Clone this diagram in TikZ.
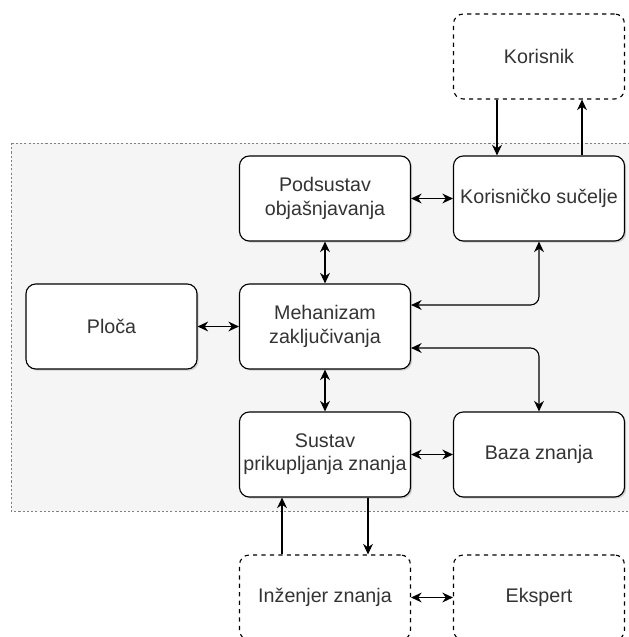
\documentclass[tikz,border=0pt]{standalone}
\usepackage{fontspec}
\setmainfont{Liberation Sans}
\usepackage{xcolor}
\usetikzlibrary{calc,arrows.meta,shadows}
\definecolor{txt}{HTML}{333333}
\definecolor{bg}{HTML}{F5F5F5}

\begin{document}
\begin{tikzpicture}[x=0.025cm,y=-0.025cm,>={Stealth[length=7.5pt,width=7pt]}]
        \tikzstyle{every node}=[draw,rounded corners=7pt,minimum width=4.275cm,minimum height=2.125cm,inner sep=0pt,align=center,text=txt,font=\fontsize{14}{16.5}\selectfont,line width=0.8pt,fill=white]
        \tikzstyle{sjena}=[drop shadow={opacity=0.3,shadow xshift=1.2pt,shadow yshift=-1.2pt}]
        \tikzstyle{vanjski}=[dashed]
        \tikzstyle{veza}=[line width=0.8pt]
        \useasboundingbox (0,0) rectangle (629,637);
        \clip (0,0) rectangle (629,637);
        % pozadina sustava
        \draw[gray,fill=bg,dash pattern=on 1.5pt off 1.5pt] (11,143) rectangle (640,511);
        % blokovi
        \node[vanjski] (kor) at (539,56.5) {Korisnik};
        \node[sjena] (ks) at (539,198.5) {Korisničko sučelje};
        \node[sjena] (pod) at (325,198.5) {Podsustav\\objašnjavanja};
        \node[sjena] (ploca) at (111.5,326.5) {Ploča};
        \node[sjena] (meh) at (325,326.5) {Mehanizam\\zaključivanja};
        \node[sjena] (sus) at (325,454.5) {Sustav\\prikupljanja znanja};
        \node[sjena] (baza) at (539,454.5) {Baza znanja};
        \node[vanjski] (inz) at (325,597.5) {Inženjer znanja};
        \node[vanjski] (eks) at (539,597.5) {Ekspert};
        % veze
        \draw[veza,->] ($(kor.south)+(-42,0)$) -- ($(ks.north)+(-42,0)$);
        \draw[veza,->] ($(ks.north)+(43,0)$) -- ($(kor.south)+(43,0)$);
        \draw[veza,<->] (pod.east) -- (ks.west);
        \draw[veza,<->] (pod.south) -- (meh.north);
        \draw[veza,<->] (ploca.east) -- (meh.west);
        \draw[veza,<->,rounded corners=6pt] ($(meh.east)+(0,-21.5)$) -| (ks.south);
        \draw[veza,<->,rounded corners=6pt] ($(meh.east)+(0,21.5)$) -| (baza.north);
        \draw[veza,<->] (meh.south) -- (sus.north);
        \draw[veza,<->] (sus.east) -- (baza.west);
        \draw[veza,->] ($(inz.north)+(-43,0)$) -- ($(sus.south)+(-43,0)$);
        \draw[veza,->] ($(sus.south)+(43,0)$) -- ($(inz.north)+(43,0)$);
        \draw[veza,<->] (inz.east) -- (eks.west);
\end{tikzpicture}
\end{document}
